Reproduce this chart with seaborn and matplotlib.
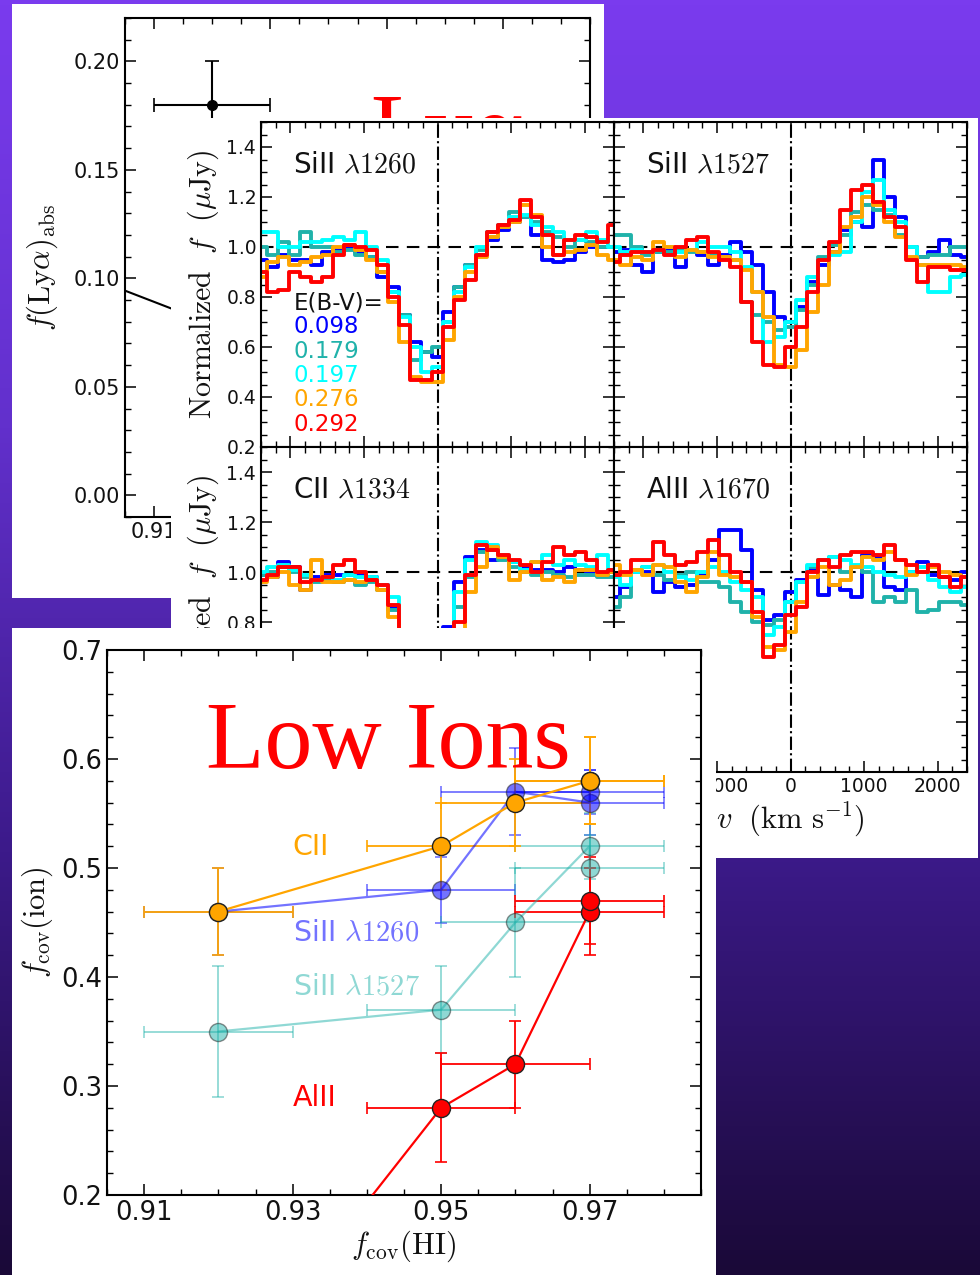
import numpy as np
import pandas as pd
import matplotlib
matplotlib.use('Agg')
import matplotlib.pyplot as plt
from matplotlib.colors import LinearSegmentedColormap
from matplotlib.ticker import AutoMinorLocator, MultipleLocator, FixedLocator
import seaborn as sns

# --- DATA ---
# velocity grid of the stacked spectra (km/s)
velocity = [-2400, -2250, -2100, -1950, -1800, -1650, -1500, -1350, -1200, -1050, -900,
            -750, -600, -450, -300, -150, 0, 150, 300, 450, 600, 750, 900, 1050, 1200,
            1350, 1500, 1650, 1800, 1950, 2100, 2250, 2400]

ebv_labels = ['0.098', '0.179', '0.197', '0.276', '0.292']
ebv_colors = ['#0000ff', '#20b2aa', '#00ffff', '#ffa500', '#ff0000']

si1260 = [
    [0.95, 0.92, 0.97, 0.95, 0.95, 0.93, 0.98, 0.99, 1.00, 0.98, 0.96, 0.88, 0.84, 0.73, 0.62, 0.58, 0.56,
     0.74, 0.84, 0.93, 0.97, 1.03, 1.07, 1.10, 1.12, 1.05, 0.95, 0.94, 0.95, 0.98, 1.00, 1.00, 1.00],
    [1.00, 0.97, 1.02, 0.97, 1.06, 1.00, 1.00, 0.98, 0.99, 0.97, 0.96, 0.90, 0.82, 0.73, 0.55, 0.58, 0.60,
     0.70, 0.84, 0.93, 0.99, 1.06, 1.09, 1.14, 1.12, 1.10, 1.06, 1.04, 1.00, 1.03, 1.02, 1.00, 1.00],
    [1.06, 1.06, 1.00, 1.00, 1.02, 1.02, 1.03, 1.04, 1.03, 1.06, 1.00, 0.95, 0.82, 0.72, 0.60, 0.50, 0.52,
     0.70, 0.82, 0.92, 1.00, 1.04, 1.08, 1.12, 1.13, 1.09, 1.08, 1.06, 1.03, 1.03, 1.06, 1.03, 1.00],
    [0.88, 0.94, 0.96, 0.93, 0.94, 0.96, 0.97, 1.00, 1.01, 0.99, 0.95, 0.90, 0.78, 0.62, 0.48, 0.46, 0.46,
     0.63, 0.80, 0.90, 0.96, 1.04, 1.08, 1.10, 1.17, 1.13, 1.00, 0.97, 0.98, 0.99, 1.01, 0.97, 0.95],
    [0.90, 0.82, 0.83, 0.90, 0.88, 0.86, 0.88, 0.97, 1.01, 1.00, 0.99, 0.93, 0.80, 0.69, 0.47, 0.47, 0.50,
     0.68, 0.79, 0.87, 0.97, 1.06, 1.09, 1.11, 1.19, 1.12, 1.05, 0.97, 1.03, 1.05, 1.04, 1.02, 1.09],
]
si1527 = [
    [0.98, 0.99, 0.93, 0.90, 0.98, 0.99, 0.92, 0.99, 0.97, 0.93, 0.97, 1.02, 0.98, 0.93, 0.82, 0.72, 0.70,
     0.76, 0.86, 0.93, 0.98, 1.07, 1.10, 1.08, 1.35, 1.20, 1.12, 1.00, 0.96, 0.98, 1.03, 0.97, 0.96],
    [1.05, 1.05, 1.00, 0.97, 0.98, 0.98, 0.99, 0.98, 0.98, 0.97, 0.96, 0.95, 0.78, 0.73, 0.70, 0.67, 0.68,
     0.75, 0.85, 0.96, 1.01, 1.05, 1.14, 1.17, 1.15, 1.13, 1.05, 1.00, 0.96, 0.97, 0.97, 1.00, 1.00],
    [1.00, 0.98, 0.99, 0.98, 0.99, 1.00, 0.98, 0.99, 1.02, 1.00, 1.00, 0.98, 0.92, 0.82, 0.62, 0.64, 0.70,
     0.79, 0.88, 0.95, 0.97, 0.98, 1.10, 1.22, 1.27, 1.15, 1.10, 1.00, 0.93, 0.82, 0.82, 0.88, 0.89],
    [0.95, 0.93, 0.96, 0.95, 1.02, 1.00, 0.96, 0.99, 0.98, 0.96, 0.96, 0.95, 0.91, 0.82, 0.72, 0.53, 0.52,
     0.59, 0.74, 0.85, 0.98, 1.08, 1.12, 1.20, 1.17, 1.10, 1.04, 0.96, 0.93, 0.93, 0.93, 0.93, 0.92],
    [0.94, 0.97, 0.98, 0.98, 0.99, 0.97, 1.00, 1.03, 1.04, 0.98, 0.95, 0.92, 0.78, 0.62, 0.53, 0.52, 0.60,
     0.68, 0.82, 0.95, 1.02, 1.15, 1.23, 1.25, 1.18, 1.12, 1.08, 0.95, 0.86, 0.92, 0.92, 0.91, 0.91],
]
c1334 = [
    [0.99, 0.98, 1.04, 1.02, 0.93, 0.98, 0.99, 0.99, 0.99, 0.99, 0.98, 0.95, 0.86, 0.55, 0.30, 0.22, 0.40,
     0.78, 0.96, 1.06, 1.09, 1.05, 1.06, 1.04, 1.02, 1.01, 1.01, 1.00, 1.02, 1.01, 1.00, 0.99, 1.00],
    [0.99, 1.00, 1.02, 1.00, 0.98, 0.96, 0.97, 0.96, 0.97, 0.95, 0.96, 0.93, 0.85, 0.58, 0.32, 0.24, 0.30,
     0.52, 0.86, 0.98, 1.08, 1.09, 1.05, 1.02, 1.00, 0.99, 1.00, 0.99, 0.98, 0.99, 0.99, 0.98, 0.98],
    [1.00, 1.02, 1.03, 1.01, 0.99, 0.97, 0.98, 0.97, 0.99, 0.98, 0.98, 0.95, 0.90, 0.60, 0.33, 0.23, 0.32,
     0.70, 0.92, 1.05, 1.12, 1.11, 1.07, 1.04, 1.01, 1.04, 1.07, 1.03, 1.05, 1.03, 1.02, 1.07, 1.01],
    [0.96, 0.98, 1.00, 0.95, 0.93, 1.05, 0.96, 0.96, 0.97, 0.96, 0.97, 0.93, 0.82, 0.55, 0.30, 0.22, 0.26,
     0.45, 0.75, 0.92, 1.02, 1.10, 1.06, 0.97, 1.00, 1.04, 0.97, 0.98, 0.96, 1.01, 1.01, 0.99, 1.00],
    [0.97, 0.99, 1.02, 1.02, 0.96, 0.97, 0.98, 1.03, 1.05, 1.00, 0.97, 0.95, 0.87, 0.60, 0.35, 0.25, 0.28,
     0.45, 0.80, 0.99, 1.11, 1.09, 1.07, 1.05, 1.03, 1.00, 1.04, 1.10, 1.07, 1.08, 1.05, 1.00, 1.01],
]
al1670 = [
    [0.90, 0.94, 1.00, 1.00, 0.92, 0.96, 0.94, 0.95, 0.99, 1.05, 1.17, 1.17, 1.09, 0.93, 0.81, 0.83, 0.92,
     0.97, 1.01, 0.91, 0.95, 0.93, 0.90, 1.07, 1.06, 0.94, 0.93, 1.00, 1.04, 0.99, 0.98, 0.97, 1.00],
    [0.86, 0.90, 1.01, 1.02, 0.99, 0.97, 0.99, 1.00, 0.96, 0.96, 0.94, 0.88, 0.84, 0.80, 0.79, 0.81, 0.88,
     0.96, 1.02, 1.05, 1.06, 1.00, 1.02, 1.00, 0.88, 0.90, 0.88, 0.93, 0.84, 0.85, 0.88, 0.88, 0.87],
    [0.98, 0.95, 1.00, 1.02, 1.03, 1.00, 0.98, 0.97, 1.00, 1.02, 1.00, 0.96, 0.93, 0.90, 0.75, 0.78, 0.88,
     0.96, 1.03, 1.05, 1.06, 1.05, 1.03, 1.02, 1.00, 0.99, 0.98, 1.00, 1.02, 0.97, 0.94, 0.92, 0.94],
    [1.03, 0.99, 1.01, 0.99, 1.03, 1.02, 0.96, 0.92, 0.98, 1.08, 0.99, 0.98, 0.96, 0.82, 0.70, 0.69, 0.76,
     0.88, 0.98, 1.02, 0.95, 0.97, 1.02, 1.06, 1.05, 1.08, 1.05, 0.99, 1.00, 1.02, 1.00, 0.99, 0.98],
    [0.99, 1.00, 1.05, 1.05, 1.12, 1.07, 1.03, 1.04, 1.08, 1.13, 1.07, 1.00, 0.96, 0.84, 0.66, 0.71, 0.83,
     0.86, 1.00, 1.05, 1.02, 1.07, 1.08, 1.08, 1.07, 1.11, 1.05, 1.03, 1.00, 1.03, 0.98, 0.94, 0.98],
]

# covering fractions
fcov_hi = [0.92, 0.95, 0.96, 0.97, 0.97]
fcov_hi_err = [0.01, 0.01, 0.01, 0.01, 0.01]
ion_names = ['SiII $\\lambda1260$', 'SiII $\\lambda1527$', 'CII', 'AlII']
ion_colors = ['#0000ff', '#20b2aa', '#ffa500', '#ff0000']
ion_alpha = [0.55, 0.5, 1.0, 1.0]
fcov_ion = [
    [0.46, 0.48, 0.57, 0.56, 0.57],
    [0.35, 0.37, 0.45, 0.52, 0.50],
    [0.46, 0.52, 0.56, 0.58, 0.58],
    [0.02, 0.28, 0.32, 0.46, 0.47],
]
fcov_ion_err = [
    [0.04, 0.03, 0.04, 0.03, 0.02],
    [0.06, 0.04, 0.05, 0.03, 0.03],
    [0.04, 0.04, 0.04, 0.04, 0.04],
    [0.05, 0.05, 0.04, 0.04, 0.04],
]
ion_label_y = [0.441, 0.391, 0.519, 0.289]

# Lya absorption panel (mostly hidden)
lya_x = [0.92]
lya_y = [0.18]
lya_xerr = [0.01]
lya_yerr = [0.02]
lya_fit_x = [0.900, 0.930]
lya_fit_y = [0.0995, 0.0685]

# --- FIGURE ---
W, H = 980, 1275
sns.set_theme(style='white')
plt.rcParams['font.family'] = ['DejaVu Sans']
plt.rcParams['mathtext.fontset'] = 'cm'


def box(l, t, r, b):
    return [l / W, 1 - b / H, (r - l) / W, (b - t) / H]


def sheet(l, t, r, b, z):
    a = fig.add_axes(box(l, t, r, b), zorder=z)
    a.set_facecolor('white')
    a.set_xticks([])
    a.set_yticks([])
    for s in a.spines.values():
        s.set_visible(False)
    return a


def style_axes(a, size):
    a.set_facecolor('white')
    for s in a.spines.values():
        s.set_visible(True)
        s.set_color('black')
        s.set_linewidth(1.5)
    a.tick_params(which='both', direction='in', top=True, right=True, bottom=True, left=True,
                  colors='black', labelsize=size, labelcolor='#111111')
    a.tick_params(which='major', length=8, width=1.1)
    a.tick_params(which='minor', length=4, width=1.0)
    a.grid(False)


def hide_labels(labels, keep):
    # tick labels that sit fully behind the next sheet are not drawn
    for t in labels:
        if not keep(t.get_position()):
            t.set_visible(False)


fig = plt.figure(figsize=(9.8, 12.75), dpi=100)

bg = fig.add_axes([0, 0, 1, 1], zorder=0)
grad = LinearSegmentedColormap.from_list('bg', ['#7a3bee', '#6230cc', '#3c1a8a', '#1a0938'])
bg.imshow(np.linspace(0, 1, 256).reshape(-1, 1), aspect='auto', cmap=grad, extent=[0, 1, 0, 1])
bg.axis('off')

# --- panel 1: f(Lya)abs ---
sheet(12, 4, 604, 598, 1)
ax1 = fig.add_axes(box(125, 18, 590, 517), zorder=2)
style_axes(ax1, 15)
ax1.plot(lya_fit_x, lya_fit_y, color='black', lw=1.5)
ax1.errorbar(lya_x, lya_y, xerr=lya_xerr, yerr=lya_yerr, fmt='o', color='black', ms=7,
             elinewidth=1.5, capsize=5, capthick=1.2)
ax1.set_xlim(0.905, 0.985)
ax1.set_ylim(-0.01, 0.22)
ax1.xaxis.set_major_locator(FixedLocator([0.91, 0.93, 0.95, 0.97]))
ax1.xaxis.set_minor_locator(MultipleLocator(0.005))
ax1.yaxis.set_major_locator(MultipleLocator(0.05))
ax1.yaxis.set_minor_locator(AutoMinorLocator(5))
ax1.set_ylabel(r'$f(\mathrm{Ly}\alpha)_\mathrm{abs}$', fontsize=22, color='#111111', labelpad=10)
ax1.text(0.9472, 0.154, 'Ly\u03b1', color='red', fontsize=70, family='Liberation Serif', va='baseline')
fig.canvas.draw()
hide_labels(ax1.get_xticklabels(), lambda p: p[0] < 0.92)

# --- panel 2: stacked spectra ---
sheet(171, 118, 978, 858, 3)
grid = {'tl': (261, 122, 614, 447), 'tr': (614, 122, 967, 447),
        'bl': (261, 447, 614, 772), 'br': (614, 447, 967, 772)}
panels = [('tl', si1260, 'SiII $\\lambda1260$'), ('tr', si1527, 'SiII $\\lambda1527$'),
          ('bl', c1334, 'CII $\\lambda1334$'), ('br', al1670, 'AlII $\\lambda1670$')]
palette = dict(zip(ebv_labels, ebv_colors))
spec_axes = {}
for key, series, title in panels:
    ax = fig.add_axes(box(*grid[key]), zorder=4)
    style_axes(ax, 13.5)
    frames = [pd.DataFrame({'v': velocity, 'flux': vals, 'ebv': lab})
              for lab, vals in zip(ebv_labels, series)]
    df = pd.concat(frames, ignore_index=True)
    ax.axhline(1.0, color='black', ls='--', lw=1.5, dashes=(6, 4), zorder=1)
    ax.axvline(0, color='black', ls='-.', lw=1.5, zorder=1)
    sns.lineplot(data=df, x='v', y='flux', hue='ebv', hue_order=ebv_labels, palette=palette,
                 drawstyle='steps-mid', lw=2.8, legend=False, estimator=None, sort=False,
                 ax=ax, zorder=2)
    ax.set_xlim(-2400, 2400)
    ax.set_ylim(0.2, 1.5)
    ax.xaxis.set_major_locator(MultipleLocator(1000))
    ax.xaxis.set_minor_locator(AutoMinorLocator(5))
    ax.yaxis.set_major_locator(MultipleLocator(0.2))
    ax.yaxis.set_minor_locator(AutoMinorLocator(4))
    ax.text(-1960, 1.33, title, fontsize=20, va='center', color='#111111')
    if key in ('tl', 'bl'):
        ax.set_ylabel(r'$\mathrm{Normalized}\ \ f\ \ (\mu\mathrm{Jy})$', fontsize=21.5,
                      color='#111111', labelpad=4)
    else:
        ax.set_ylabel('')
        ax.tick_params(labelleft=False)
    if key == 'br':
        ax.set_xlabel(r'$v\ \ (\mathrm{km\ s^{-1}})$', fontsize=22, color='#111111', labelpad=3)
    elif key == 'bl':
        ax.set_xlabel('')
        ax.tick_params(labelbottom=False)
    else:
        ax.set_xlabel('')
        ax.tick_params(labelbottom=False)
    spec_axes[key] = ax

fig.canvas.draw()
hide_labels(spec_axes['bl'].get_yticklabels(), lambda p: p[1] > 0.75)
hide_labels(spec_axes['br'].get_xticklabels(), lambda p: p[0] > -1500)

axl = spec_axes['tl']
axl.text(-1960, 0.777, 'E(B-V)=', fontsize=16.5, va='center', color='#111111')
for i, (lab, col) in enumerate(zip(ebv_labels, ebv_colors)):
    axl.text(-1960, 0.681 - 0.0975 * i, lab, fontsize=16.5, va='center', color=col)

# --- panel 3: covering fractions ---
sheet(12, 628, 716, 1275, 5)
ax3 = fig.add_axes(box(107, 650, 701, 1195), zorder=6)
style_axes(ax3, 18.5)
for name, col, alpha, yv, ye, ly in zip(ion_names, ion_colors, ion_alpha, fcov_ion, fcov_ion_err,
                                        ion_label_y):
    ax3.errorbar(fcov_hi, yv, xerr=fcov_hi_err, yerr=ye, fmt='none', ecolor=col, alpha=alpha,
                 elinewidth=1.3, capsize=4, capthick=1.2, zorder=2)
    sns.lineplot(x=fcov_hi, y=yv, color=col, alpha=alpha, lw=1.6, marker='o', markersize=13,
                 markeredgecolor='#222222', markeredgewidth=1.0, estimator=None, sort=False,
                 ax=ax3, zorder=3)
    ax3.text(0.93, ly, name, color=col, alpha=alpha, fontsize=20.5, va='center')
ax3.set_xlim(0.905, 0.985)
ax3.set_ylim(0.2, 0.7)
ax3.xaxis.set_major_locator(FixedLocator([0.91, 0.93, 0.95, 0.97]))
ax3.xaxis.set_minor_locator(MultipleLocator(0.005))
ax3.yaxis.set_major_locator(MultipleLocator(0.1))
ax3.yaxis.set_minor_locator(AutoMinorLocator(5))
ax3.set_xlabel(r'$f_\mathrm{cov}(\mathrm{HI})$', fontsize=22, color='#111111', labelpad=2)
ax3.set_ylabel(r'$f_\mathrm{cov}(\mathrm{ion})$', fontsize=22, color='#111111', labelpad=4)
ax3.text(0.9183, 0.5917, 'Low Ions', color='red', fontsize=69, family='Liberation Serif',
         va='baseline')

fig.savefig('out.png', dpi=100)
